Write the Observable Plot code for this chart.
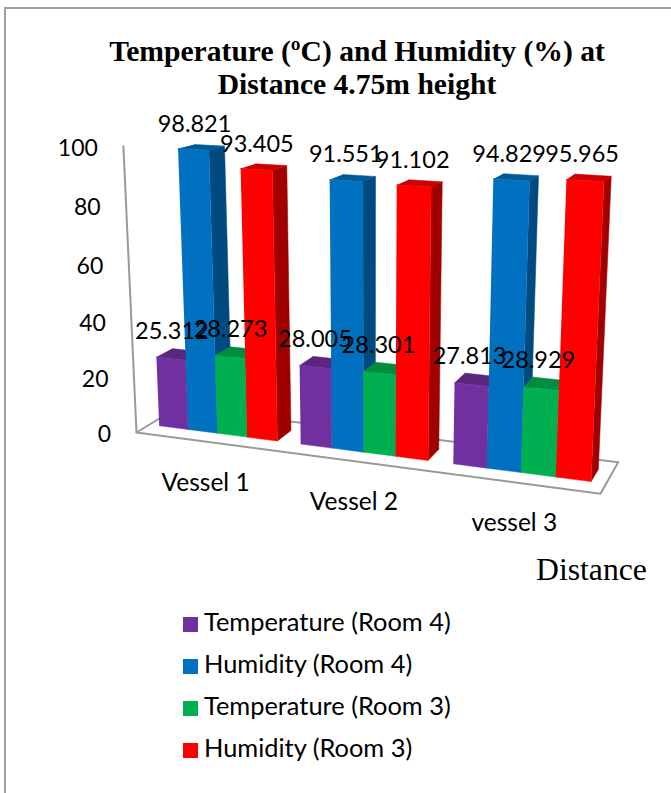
<!DOCTYPE html>
<html><head><meta charset="utf-8">
<script src="https://cdn.jsdelivr.net/npm/d3@7"></script>
<script src="https://cdn.jsdelivr.net/npm/@observablehq/plot@0.6"></script>
<style>
html,body{margin:0;padding:0;background:#fff;}
#page{position:relative;width:671px;height:793px;overflow:hidden;}
#frame{position:absolute;left:4px;top:7px;width:680px;height:800px;border:2px solid #a0a0a0;box-sizing:border-box;}
#title{position:absolute;left:0;top:35px;width:714px;text-align:center;font:bold 29.6px/33px "Liberation Serif",serif;color:#000;}
#chart{position:absolute;left:0;top:100px;}
#dist{position:absolute;left:536px;top:552px;font:31.7px/36px "Liberation Serif",serif;color:#000;}
#legend{position:absolute;left:183px;top:599.5px;font:25.4px/42px Lato,sans-serif;color:#000;}
#legend div{height:42px;white-space:nowrap;}
#legend i{display:inline-block;width:15px;height:15px;margin-right:6px;vertical-align:-1px;}
</style></head>
<body><div id="page">
<div id="frame"></div>
<div id="title">Temperature (ºC) and Humidity (%) at<br>Distance 4.75m height</div>
<div id="chart"></div>
<div id="dist">Distance</div>
<div id="legend"></div>
</div>
<script>
const vessels = ["Vessel 1", "Vessel 2", "vessel 3"];
const tempRoom4 = [25.312, 28.005, 27.813];
const humRoom4 = [98.821, 91.551, 94.829];
const tempRoom3 = [28.273, 28.301, 28.929];
const humRoom3 = [93.405, 91.102, 95.965];
const seriesNames = ["Temperature (Room 4)", "Humidity (Room 4)", "Temperature (Room 3)", "Humidity (Room 3)"];
const seriesValues = [tempRoom4, humRoom4, tempRoom3, humRoom3];
const frontColors = ["#7030A0", "#0070C0", "#00B050", "#FF0000"];
const topColors = ["#5A2680", "#005A9A", "#008D40", "#CC0000"];
const sideColors = ["#43205F", "#004A80", "#006A30", "#A00000"];
const yTicks = [0, 20, 40, 60, 80, 100];

// Floor homography (unit square -> image) + vertical vanishing point: a 3D-to-image camera
const [p0, p1, p2, p3] = [[136, 432], [600, 493.3], [617.7, 461.7], [176.7, 407]]; // (u,w)=(0,0),(1,0),(1,1),(0,1)
const sx = p0[0] - p1[0] + p2[0] - p3[0], sy = p0[1] - p1[1] + p2[1] - p3[1];
const dx1 = p1[0] - p2[0], dx2 = p3[0] - p2[0], dy1 = p1[1] - p2[1], dy2 = p3[1] - p2[1];
const den = dx1 * dy2 - dx2 * dy1;
const g = (sx * dy2 - dx2 * sy) / den, h = (dx1 * sy - sx * dy1) / den;
const a = p1[0] - p0[0] + g * p1[0], b = p3[0] - p0[0] + h * p3[0];
const d = p1[1] - p0[1] + g * p1[1], e = p3[1] - p0[1] + h * p3[1];
const V = [372, 5590], c3 = -0.000526;
function project(u, w, v) {
  const W = g * u + h * w + 1 + c3 * v;
  return [(a * u + b * w + p0[0] + c3 * v * V[0]) / W, (d * u + e * w + p0[1] + c3 * v * V[1]) / W];
}

const gap = 0.76, w0 = 0.31, w1 = 0.70;
const uOf = (i, j) => (i + (gap / 2 + j) / (4 + gap)) / 3 - 0.003;

const faces = [];
function addFace(id, color, corners) {
  corners.forEach(([u, w, v]) => {
    const [x, y] = project(u, w, v);
    faces.push({id, color, x, y});
  });
}
const labels = [];
vessels.forEach((_, i) => {
  seriesValues.forEach((vals, j) => {
    const v = vals[i], ua = uOf(i, j), ub = uOf(i, j + 1), key = `${i}-${j}`;
    addFace(key + "s", sideColors[j], [[ub, w0, 0], [ub, w1, 0], [ub, w1, v], [ub, w0, v]]);
    addFace(key + "t", topColors[j], [[ua, w0, v], [ub, w0, v], [ub, w1, v], [ua, w1, v]]);
    addFace(key + "f", frontColors[j], [[ua, w0, 0], [ub, w0, 0], [ub, w0, v], [ua, w0, v]]);
    const [x, y] = project((ua + ub) / 2, (w0 + w1) / 2, v);
    labels.push({x, y, text: v.toFixed(3)});
  });
});
const line = (pts) => pts.map(([u, w, v]) => { const [x, y] = project(u, w, v); return {x, y}; });
const floorOutline = line([[0, 1, 0], [0, 0, 0], [1, 0, 0], [1, 1, 0], [0, 1, 0]]);
const axisLine = line([[0, 0, 0], [0, 0, 100]]);
const tickRows = yTicks.map(t => { const [x, y] = project(0, 0, t); return {x, y, t}; });
const catRows = vessels.map((name, i) => { const [x, y] = project((i + 0.5) / 3, 0, 0); return {x, y, name}; });

const lato = "Lato, sans-serif";
const plot = Plot.plot({
  width: 671, height: 440,
  margin: 0,
  x: {domain: [0, 671], range: [0, 671], axis: null},
  y: {domain: [100, 540], range: [0, 440], axis: null},
  color: {type: "identity"},
  marks: [
    Plot.line(floorOutline, {x: "x", y: "y", stroke: "#999999", strokeWidth: 2}),
    Plot.line(axisLine, {x: "x", y: "y", stroke: "#999999", strokeWidth: 2}),
    Plot.line(faces, {x: "x", y: "y", z: "id", fill: "color", stroke: "color", strokeWidth: 0.5}),
    Plot.text(tickRows, {x: "x", y: "y", text: d => String(d.t), dx: -25.5, dy: 2, textAnchor: "end", fontSize: 23, fontFamily: lato, fill: "#000"}),
    Plot.text(labels, {x: "x", y: "y", text: "text", dx: -7, dy: -23, fontSize: 23.5, fontFamily: lato, fill: "#000"}),
    Plot.text(catRows, {x: "x", y: "y", text: "name", dx: -1, dy: 41, fontSize: 24.5, fontFamily: lato, fill: "#000"})
  ]
});
document.getElementById("chart").append(plot);
const leg = document.getElementById("legend");
seriesNames.forEach((n, j) => {
  const row = document.createElement("div");
  const sw = document.createElement("i");
  sw.style.background = frontColors[j];
  row.append(sw, document.createTextNode(n));
  leg.append(row);
});
</script>
</body></html>
